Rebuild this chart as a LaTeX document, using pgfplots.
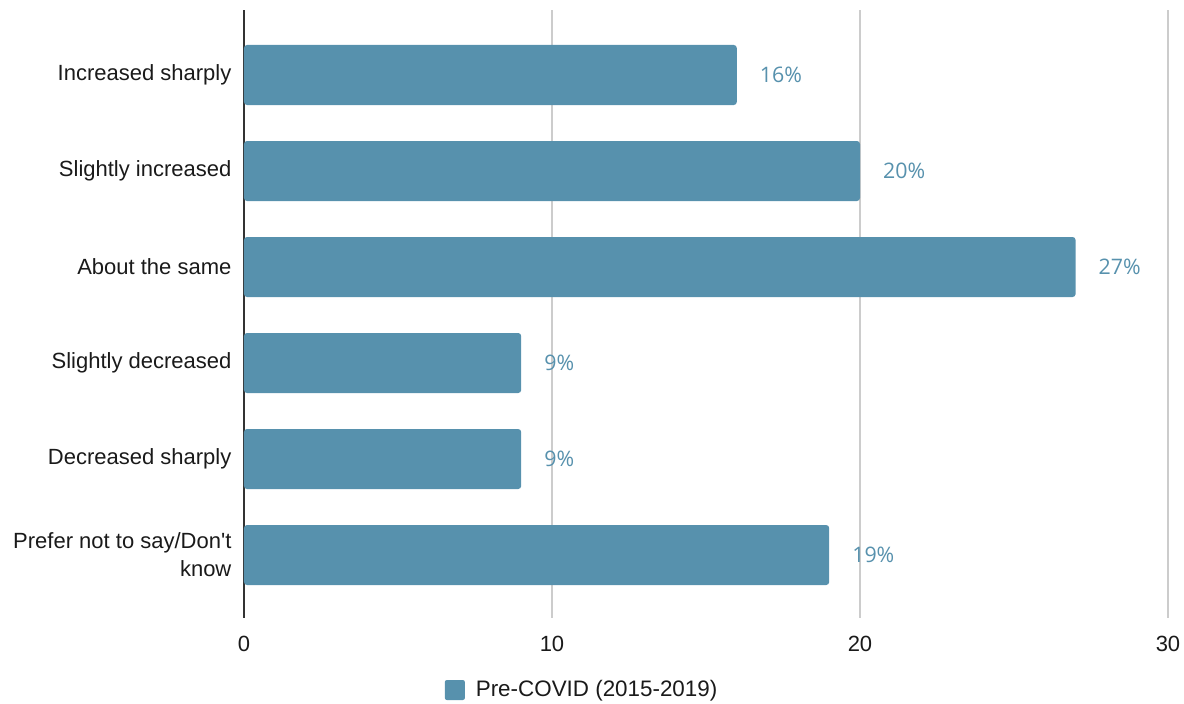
\documentclass[border=0pt]{standalone}
\usepackage{fontspec}
\setmainfont{Liberation Sans}
\newfontfamily\valfont{Open Sans}
\usepackage{pgfplots}
\pgfplotsset{compat=1.18}
\definecolor{barcol}{HTML}{5791AD}
\definecolor{txt}{HTML}{1A1A1A}
\definecolor{gridc}{HTML}{CCCCCC}
\begin{document}
\begin{tikzpicture}
  % fixed frame: axis box at (0,0)-(462pt,304pt)
  \useasboundingbox (-122pt,-42.5pt) rectangle (470pt,309pt);
  \begin{axis}[
    at={(0,0)}, anchor=south west,
    scale only axis,
    width=462pt,
    height=304pt,
    xbar,
    bar width=0.625,
    xmin=0, xmax=30,
    xtick={0,10,20,30},
    ymin=-0.677, ymax=5.656,
    y dir=reverse,
    ytick={0,1,2,3,4,5},
    yticklabels={Increased sharply,Slightly increased,About the same,Slightly decreased,Decreased sharply,{Prefer not to say/Don\textquotesingle t\\know}},
    axis lines*=left,
    x axis line style={draw=none},
    y axis line style={draw=black!80, line width=0.6pt},
    tick style={draw=none},
    xmajorgrids,
    grid style={gridc, line width=0.7pt},
    /pgf/number format/assume math mode=true,
    ticklabel style={font=\fontsize{11}{14}\selectfont, text=txt},
    yticklabel style={align=right, xshift=1.5pt},
    xticklabel style={yshift=-5.5pt},
    nodes near coords={\pgfmathprintnumber{\pgfplotspointmeta}\%},
    nodes near coords style={anchor=west, xshift=8pt, text=barcol, font=\valfont\fontsize{10.7}{12}\selectfont},
    legend style={at={(0.367,0)}, anchor=center, yshift=-36pt, draw=none,
      inner sep=0pt, font=\fontsize{11.2}{14}\selectfont, text=txt},
    legend image code/.code={\fill[barcol, rounded corners=1pt] (0pt,-5pt) rectangle (10pt,5pt);},
  ]
    \addplot[draw=none, fill=barcol, rounded corners=1.5pt] coordinates {
      (16,0) (20,1) (27,2) (9,3) (9,4) (19,5)
    };
    \addlegendentry{\hspace{3.5pt}Pre-COVID (2015-2019)}
  \end{axis}
\end{tikzpicture}
\end{document}
